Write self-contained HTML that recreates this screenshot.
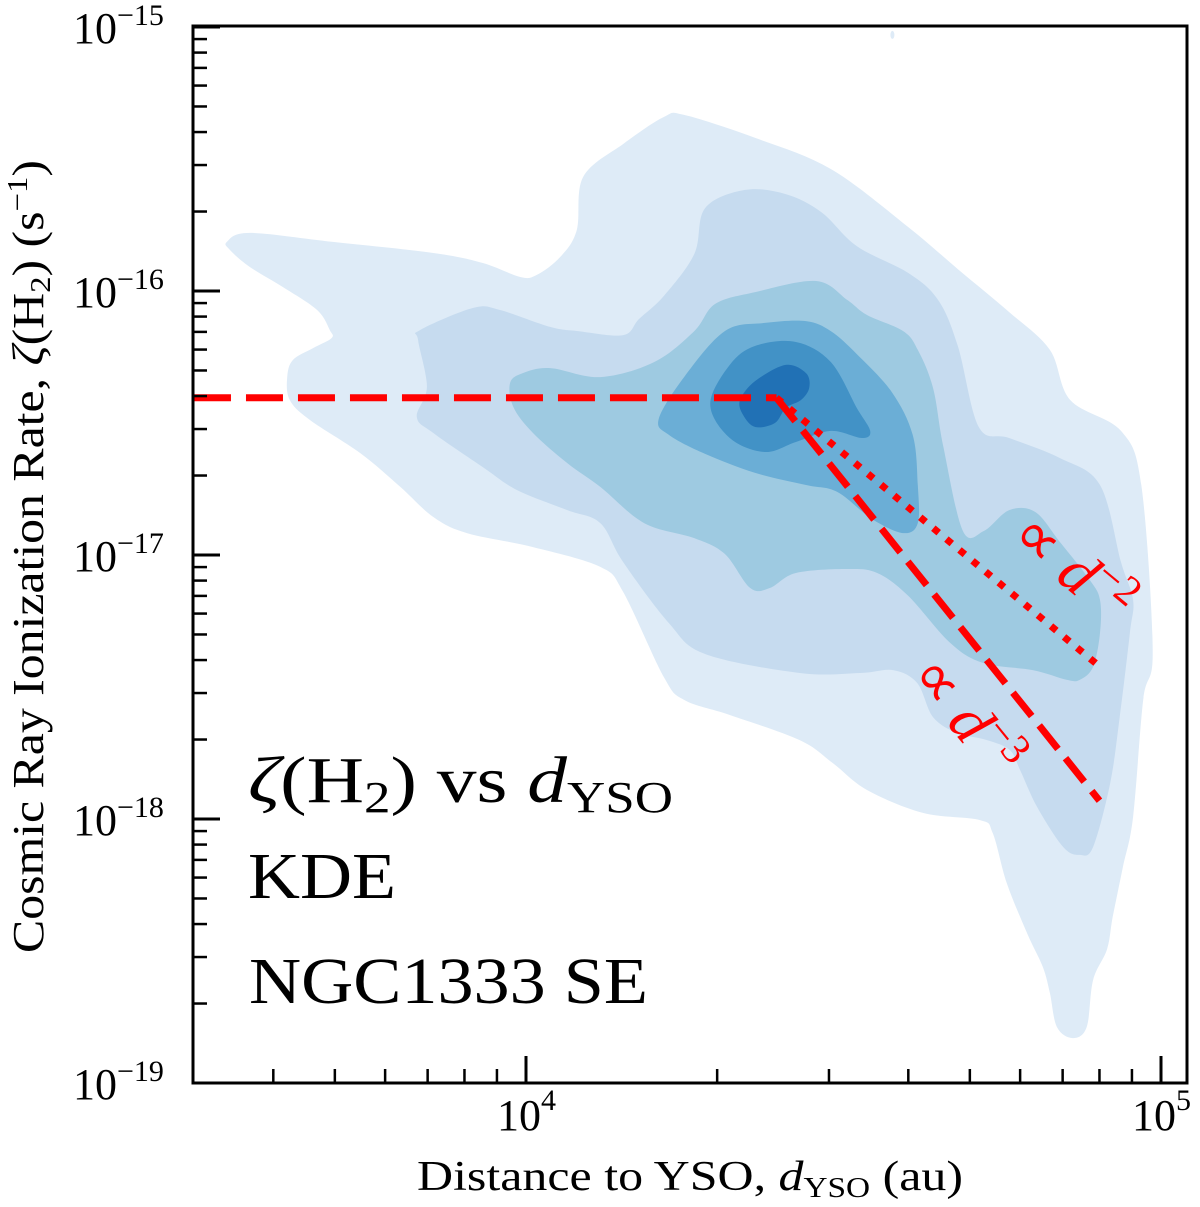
<!DOCTYPE html>
<html><head><meta charset="utf-8"><title>CRIR vs distance KDE</title>
<style>
html,body{margin:0;padding:0;background:#fff;}
svg{display:block;font-family:"Liberation Serif",serif;}
</style></head>
<body>
<svg id="chart" width="1200" height="1207" viewBox="0 0 1200 1207" xmlns="http://www.w3.org/2000/svg">
<g id="contours"></g>
<g id="lines"></g>
<g id="axes"></g>
<g id="labels">
  <text x="248" y="802" font-size="66" textLength="425" lengthAdjust="spacingAndGlyphs"><tspan font-style="italic">ζ</tspan>(H<tspan font-size="44" dy="10">2</tspan><tspan dy="-10">) vs </tspan><tspan font-style="italic">d</tspan><tspan font-size="44" dy="10">YSO</tspan></text>
  <text x="248" y="898" font-size="66" textLength="148" lengthAdjust="spacingAndGlyphs">KDE</text>
  <text x="249" y="1003" font-size="66" textLength="399" lengthAdjust="spacingAndGlyphs">NGC1333 SE</text>
  <text x="417" y="1190" font-size="42" textLength="546" lengthAdjust="spacingAndGlyphs">Distance to YSO, <tspan font-style="italic">d</tspan><tspan font-size="28" dy="7">YSO</tspan><tspan dy="-7"> (au)</tspan></text>
  <text transform="translate(43,953) rotate(-90)" x="0" y="0" font-size="44" textLength="793" lengthAdjust="spacingAndGlyphs">Cosmic Ray Ionization Rate, <tspan font-style="italic">ζ</tspan>(H<tspan font-size="29" dy="7">2</tspan><tspan dy="-7">) (s</tspan><tspan font-size="29" dy="-16">−1</tspan><tspan dy="16">)</tspan></text>
  <text fill="#ff0000" font-size="62" transform="translate(1008,540) rotate(39.7)">∝ <tspan font-style="italic">d</tspan><tspan font-size="42" dy="-24">−2</tspan></text>
  <text fill="#ff0000" font-size="62" transform="translate(908,676) rotate(51)">∝ <tspan font-style="italic">d</tspan><tspan font-size="42" dy="-24">−3</tspan></text>
</g>
</svg>
<script>
// ---- data (log10 d [au], log10 zeta [s^-1]) ----
const level1LogD=[3.529,3.565,3.696,3.854,3.932,3.991,4.017,4.054,4.080,4.090,4.153,4.217,4.249,4.361,4.480,4.602,4.680,4.761,4.825,4.857,4.937,4.969,4.987,4.972,4.956,4.940,4.924,4.915,4.893,4.883,4.861,4.836,4.825,4.814,4.789,4.757,4.735,4.715,4.625,4.537,4.483,4.431,4.321,4.249,4.217,4.153,4.117,4.011,3.907,3.854,3.802,3.739,3.660,3.628,3.624,3.633,3.665,3.694,3.691,3.671,3.617,3.565,3.534];
const level1LogZ=[-15.814,-15.780,-15.814,-15.856,-15.894,-15.947,-15.939,-15.871,-15.769,-15.568,-15.443,-15.341,-15.333,-15.420,-15.538,-15.758,-15.917,-16.080,-16.223,-16.413,-16.530,-16.735,-17.360,-17.549,-17.992,-18.182,-18.371,-18.494,-18.610,-18.788,-18.830,-18.788,-18.659,-18.561,-18.432,-18.242,-18.053,-18.004,-17.977,-17.890,-17.788,-17.701,-17.606,-17.549,-17.462,-17.140,-17.045,-16.970,-16.917,-16.856,-16.742,-16.614,-16.489,-16.413,-16.326,-16.261,-16.216,-16.178,-16.148,-16.072,-15.985,-15.909,-15.845];
const level2LogD=[3.830,3.833,3.917,3.959,4.038,4.082,4.153,4.178,4.217,4.265,4.282,4.345,4.409,4.465,4.521,4.602,4.649,4.680,4.713,4.761,4.841,4.904,4.937,4.956,4.951,4.935,4.920,4.893,4.872,4.846,4.805,4.778,4.762,4.726,4.679,4.641,4.616,4.578,4.526,4.431,4.282,4.225,4.153,4.117,4.065,3.986,3.932,3.854,3.828,3.844];
const level2LogZ=[-16.186,-16.148,-16.064,-16.072,-16.136,-16.152,-16.167,-16.106,-16.019,-15.860,-15.686,-15.617,-15.633,-15.701,-15.830,-15.932,-16.034,-16.208,-16.515,-16.557,-16.633,-16.735,-17.027,-17.170,-17.295,-17.614,-17.864,-18.106,-18.136,-18.106,-17.955,-17.814,-17.739,-17.701,-17.674,-17.614,-17.485,-17.436,-17.447,-17.447,-17.375,-17.258,-17.027,-16.879,-16.830,-16.754,-16.667,-16.538,-16.477,-16.364];
const level3LogD=[3.975,3.995,4.038,4.117,4.202,4.265,4.298,4.361,4.457,4.506,4.537,4.594,4.617,4.641,4.657,4.688,4.721,4.761,4.802,4.841,4.888,4.904,4.904,4.893,4.872,4.852,4.798,4.720,4.668,4.602,4.553,4.506,4.425,4.384,4.353,4.313,4.265,4.186,4.117,4.065,4.011,3.980];
const level3LogZ=[-16.348,-16.311,-16.292,-16.326,-16.269,-16.152,-16.049,-16.004,-15.962,-16.034,-16.091,-16.152,-16.223,-16.367,-16.587,-16.909,-16.909,-16.830,-16.837,-16.951,-17.095,-17.170,-17.295,-17.424,-17.473,-17.473,-17.436,-17.409,-17.333,-17.155,-17.068,-17.053,-17.068,-17.125,-17.125,-16.996,-16.936,-16.879,-16.742,-16.652,-16.538,-16.439];
const level4LogD=[4.209,4.249,4.313,4.376,4.441,4.480,4.521,4.576,4.609,4.617,4.617,4.594,4.545,4.490,4.441,4.361,4.282,4.225];
const level4LogZ=[-16.485,-16.326,-16.152,-16.121,-16.114,-16.152,-16.239,-16.383,-16.545,-16.735,-16.879,-16.917,-16.864,-16.761,-16.735,-16.689,-16.617,-16.545];
const level5LogD=[4.290,4.321,4.361,4.425,4.480,4.521,4.542,4.529,4.480,4.425,4.376,4.321];
const level5LogZ=[-16.428,-16.280,-16.208,-16.193,-16.269,-16.443,-16.530,-16.557,-16.530,-16.572,-16.610,-16.557];
const level6LogD=[4.337,4.361,4.409,4.441,4.446,4.433,4.409,4.392,4.361,4.342];
const level6LogZ=[-16.413,-16.341,-16.280,-16.311,-16.367,-16.413,-16.443,-16.500,-16.515,-16.470];
const levelColors=["#deebf7","#c6dbef","#9ecae1","#6baed6","#4292c6","#2171b5"];
// power-law model
const breakDistance=24800;      // au
const breakZeta=3.94e-17;       // s^-1
const lineStartDistance=3000;
const lineEndDistance=80000;
const slopes=[-3,-2];
// axes
const xMajorTicks=[1e4,1e5];
const xTickExponents=["4","5"];
const yMajorTicks=[1e-15,1e-16,1e-17,1e-18,1e-19];
const yTickExponents=["−15","−16","−17","−18","−19"];

// ---- scales ----
const PX0=193,PX1=1187,PY0=26,PY1=1083;
function xs(d){return 526+(Math.log10(d)-4)*635;}
function ys(z){return 27+(-15-Math.log10(z))*264;}
function xl(l){return 526+(l-4)*635;}
function yl(l){return 27+(-15-l)*264;}
const NS="http://www.w3.org/2000/svg";
function mk(tag,attrs,parent){const e=document.createElementNS(NS,tag);for(const k in attrs)e.setAttribute(k,attrs[k]);parent.appendChild(e);return e;}

// ---- contours ----
function smoothClosed(pts){
  const n=pts.length;let d="M"+pts[0][0].toFixed(1)+","+pts[0][1].toFixed(1);
  for(let i=0;i<n;i++){
    const p0=pts[(i-1+n)%n],p1=pts[i],p2=pts[(i+1)%n],p3=pts[(i+2)%n];
    const c1=[p1[0]+(p2[0]-p0[0])/6,p1[1]+(p2[1]-p0[1])/6];
    const c2=[p2[0]-(p3[0]-p1[0])/6,p2[1]-(p3[1]-p1[1])/6];
    d+="C"+c1[0].toFixed(1)+","+c1[1].toFixed(1)+" "+c2[0].toFixed(1)+","+c2[1].toFixed(1)+" "+p2[0].toFixed(1)+","+p2[1].toFixed(1);
  }
  return d+"Z";
}
const levelsD=[level1LogD,level2LogD,level3LogD,level4LogD,level5LogD,level6LogD];
const levelsZ=[level1LogZ,level2LogZ,level3LogZ,level4LogZ,level5LogZ,level6LogZ];
const cg=document.getElementById("contours");
levelsD.forEach((arr,i)=>{
  const pts=arr.map((v,j)=>[xl(v),yl(levelsZ[i][j])]);
  const p=mk("path",{d:smoothClosed(pts),fill:levelColors[i]},cg);
  
  
});
const blob=mk("ellipse",{cx:xl(4.577),cy:yl(-15.03),rx:2,ry:4,fill:levelColors[0]},cg);



// ---- power-law lines ----
const lg=document.getElementById("lines");
const flat=mk("line",{x1:xs(lineStartDistance),y1:ys(breakZeta),x2:xs(breakDistance),y2:ys(breakZeta),stroke:"#ff0000","stroke-width":7,"stroke-dasharray":"37,15"},lg);


slopes.forEach(s=>{
  const zEnd=breakZeta*Math.pow(lineEndDistance/breakDistance,s);
  const l=mk("line",{x1:xs(breakDistance),y1:ys(breakZeta),x2:xs(lineEndDistance),y2:ys(zEnd),stroke:"#ff0000","stroke-width":7,"stroke-dasharray":s===-3?"30,12":"7,10"},lg);
  
  
});

// ---- axes ----
const ag=document.getElementById("axes");
const frame=mk("rect",{x:PX0,y:PY0,width:PX1-PX0,height:PY1-PY0,fill:"none",stroke:"#000","stroke-width":3},ag);


for(let e=-19;e<=-15;e++){
  for(let m=1;m<=9;m++){
    const v=m*Math.pow(10,e);
    if(e===-15&&m>1)break;
    const y=ys(v);
    const t=mk("line",{x1:PX0,x2:PX0+(m===1?27:14),y1:y,y2:y,stroke:"#000","stroke-width":m===1?3:2.5},ag);
    
    
  }
}
yMajorTicks.forEach((v,i)=>{
  const y=ys(v);
  const t=mk("text",{x:73,y:y+16,"font-size":44},ag);t.textContent="10";
  
  
  const s=mk("text",{x:117,y:y-2,"font-size":30},ag);s.textContent=yTickExponents[i];
  
  
});
for(let e=3;e<=5;e++){
  for(let m=1;m<=9;m++){
    const v=m*Math.pow(10,e);
    const x=xs(v);
    if(x<PX0+2||x>PX1-2)continue;
    const t=mk("line",{x1:x,x2:x,y1:PY1,y2:PY1-(m===1?27:14),stroke:"#000","stroke-width":m===1?3:2.5},ag);
    
    
  }
}
xMajorTicks.forEach((v,i)=>{
  const x=xs(v);
  const t=mk("text",{x:x-29,y:1130,"font-size":44},ag);t.textContent="10";
  
  
  const s=mk("text",{x:x+15,y:1110,"font-size":30},ag);s.textContent=xTickExponents[i];
  
  
});
</script>
</body></html>
